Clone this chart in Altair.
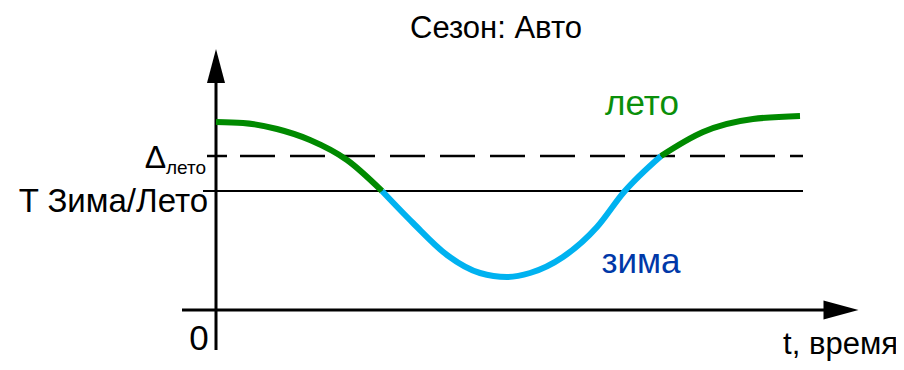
import altair as alt
import pandas as pd

# ---- schematic data (arbitrary units: t = time, T = temperature) ----
curve_t = [0, 27, 61, 94, 131, 166, 197, 231, 264, 291, 314, 347, 381, 408, 445, 487, 537, 584]
curve_T = [188, 187, 181, 170, 150, 119, 87, 55, 37, 33, 37, 53, 83, 118, 154, 178, 191, 194]
# segment boundaries (indices into curve arrays) and their season
seg_bounds = [(0, 5), (5, 14), (14, 17)]
seg_season = ["лето", "зима", "лето"]

T_switch = 119      # T Зима/Лето
T_delta = 154       # Δ лето

season_domain = ["лето", "зима"]
season_colors = ["#008a00", "#00b2f0"]

title_text = "Сезон: Авто"
x_label = "t, время"
y_switch_label = "T Зима/Лето"
delta_main = "Δ"
delta_sub = "лето"
zero_label = "0"

FONT = "Liberation Sans"

xs = alt.Scale(domain=[-208, 680], nice=False, zero=False)
ys = alt.Scale(domain=[-52, 302], nice=False, zero=False)

rows = []
for k, ((a, b), s) in enumerate(zip(seg_bounds, seg_season)):
    for i in range(a, b + 1):
        rows.append({"t": curve_t[i], "T": curve_T[i], "seg": k, "season": s, "o": i})
curve_df = pd.DataFrame(rows)

curve = alt.Chart(curve_df).mark_line(strokeWidth=6, interpolate="monotone", strokeCap="butt").encode(
    x=alt.X("t:Q", scale=xs, axis=None),
    y=alt.Y("T:Q", scale=ys, axis=None),
    detail="seg:N",
    order="o:Q",
    color=alt.Color("season:N", scale=alt.Scale(domain=season_domain, range=season_colors), legend=None),
)

def hline(t0, t1, T, width, dash=None):
    df = pd.DataFrame({"t": [t0], "t2": [t1], "T": [T]})
    kw = dict(strokeWidth=width, color="black")
    if dash:
        kw["strokeDash"] = dash
    return alt.Chart(df).mark_rule(**kw).encode(
        x=alt.X("t:Q", scale=xs, axis=None), x2="t2:Q",
        y=alt.Y("T:Q", scale=ys, axis=None))

def vline(t, T0, T1, width):
    df = pd.DataFrame({"t": [t], "T": [T0], "T2": [T1]})
    return alt.Chart(df).mark_rule(strokeWidth=width, color="black").encode(
        x=alt.X("t:Q", scale=xs, axis=None),
        y=alt.Y("T:Q", scale=ys, axis=None), y2="T2:Q")

def arrow(t, T, path, size):
    df = pd.DataFrame({"t": [t], "T": [T]})
    return alt.Chart(df).mark_point(shape=path, size=size, filled=True, color="black", opacity=1, strokeWidth=0).encode(
        x=alt.X("t:Q", scale=xs, axis=None),
        y=alt.Y("T:Q", scale=ys, axis=None))

def label(t, T, text, size, align, color="black"):
    df = pd.DataFrame({"t": [t], "T": [T], "txt": [text]})
    return alt.Chart(df).mark_text(font=FONT, fontSize=size, align=align, baseline="alphabetic", color=color).encode(
        x=alt.X("t:Q", scale=xs, axis=None),
        y=alt.Y("T:Q", scale=ys, axis=None),
        text="txt:N")

layers = [
    hline(-13, 587, T_switch, 2),
    hline(24, 587, T_delta, 2.5, [35, 15]),
    hline(-9, 11, T_delta, 2.5),
    vline(0, -40, 228, 3),
    hline(-34, 608, 0, 3),
    arrow(0, 244, "M0,-1L0.53,1L-0.53,1Z", 1156),
    arrow(625, 0, "M1,0L-1,0.54L-1,-0.54Z", 1225),
    curve,
    label(280, 272, title_text, 31, "center"),
    label(426, 195, "лето", 35, "center", "#0a8f0a"),
    label(425, 37, "зима", 35, "center", "#0038a8"),
    label(-8, 98, y_switch_label, 33, "right"),
    label(-50, 142, delta_main, 32, "right"),
    label(-50, 136, delta_sub, 19, "left"),
    label(-17, -40, zero_label, 35, "center"),
    label(682, -44, x_label, 31, "right"),
]

chart = alt.layer(*layers).properties(
    width=888, height=354, padding=0, autosize=alt.AutoSizeParams(type="none")
).configure_view(stroke=None)

chart.save("out.html", embed_options={"renderer": "svg", "actions": False})
